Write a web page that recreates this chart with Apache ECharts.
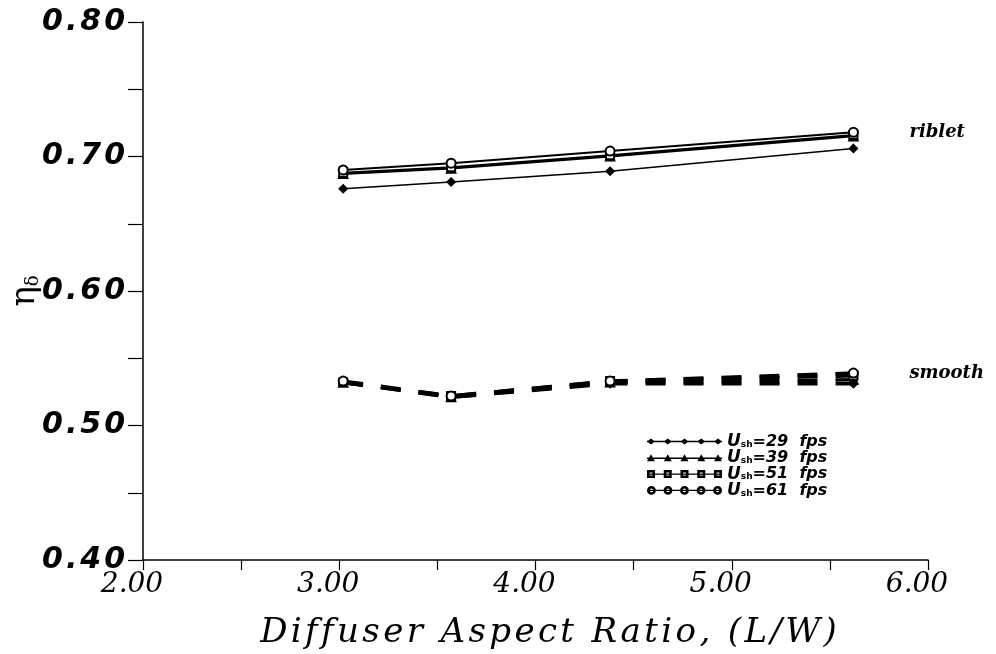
<!DOCTYPE html>
<html>
<head>
<meta charset="utf-8">
<script src="https://cdn.jsdelivr.net/npm/echarts@6/dist/echarts.min.js"></script>
<style>
  html, body { margin: 0; padding: 0; background: #fff; }
  #chart { width: 996px; height: 654px; }
</style>
</head>
<body>
<div id="chart"></div>
<script>
// Diffuser aspect ratio (L/W) at each test station
const aspectRatio = [3.02, 3.57, 4.38, 5.62];

// Free-stream speeds, fps
const speeds = ['29', '39', '51', '61'];

// Efficiency eta_delta, riblet surface
const riblet29 = [0.676, 0.681, 0.689, 0.706];
const riblet39 = [0.687, 0.691, 0.700, 0.715];
const riblet51 = [0.688, 0.692, 0.701, 0.716];
const riblet61 = [0.690, 0.695, 0.704, 0.718];

// Efficiency eta_delta, smooth surface
const smooth29 = [0.532, 0.521, 0.531, 0.531];
const smooth39 = [0.532, 0.521, 0.532, 0.534];
const smooth51 = [0.532, 0.522, 0.533, 0.537];
const smooth61 = [0.533, 0.522, 0.533, 0.539];

// Axis tick labels
const xTickLabels = ['2.00', '3.00', '4.00', '5.00', '6.00'];
const yTickLabels = ['0.40', '0.50', '0.60', '0.70', '0.80'];

const HAIR = '\u200A';
const spaced = (s, sep) => s.split('').join(sep);

const markers = {
  '29': { symbol: 'diamond', size: 7 },
  '39': { symbol: 'triangle', size: 8 },
  '51': { symbol: 'emptyRect', size: 8 },
  '61': { symbol: 'emptyCircle', size: 9 }
};

function pairs(ys) {
  return aspectRatio.map((x, i) => [x, ys[i]]);
}

function makeSeries(name, ys, dashed, endText) {
  const m = markers[name];
  const s = {
    name: name,
    type: 'line',
    data: pairs(ys),
    symbol: m.symbol,
    symbolSize: m.size,
    showAllSymbol: true,
    itemStyle: { color: '#000', borderColor: '#000', borderWidth: 2.2 },
    lineStyle: dashed
      ? { color: '#000', width: 3.5, type: [20, 18] }
      : { color: '#000', width: name === '29' ? 1.6 : 2 },
    emphasis: { disabled: true },
    animation: false,
    z: 3
  };
  if (endText) {
    s.endLabel = {
      show: true,
      formatter: endText,
      distance: 56,
      color: '#000',
      fontFamily: 'DejaVu Serif',
      fontStyle: 'italic',
      fontWeight: 'bold',
      fontSize: 18
    };
  }
  return s;
}

const rib = [riblet29, riblet39, riblet51, riblet61];
const smo = [smooth29, smooth39, smooth51, smooth61];
const series = [];
speeds.forEach((sp, i) => {
  series.push(makeSeries(sp, rib[i], false, sp === '61' ? 'riblet' : null));
});
speeds.forEach((sp, i) => {
  series.push(makeSeries(sp, smo[i], true, sp === '61' ? 'smooth' : null));
});

// Legend icons: a short line carrying five markers
function legendPath(kind) {
  let p = 'M0 4.3 H75 V5.7 H0 Z';
  for (let k = 0; k < 5; k++) {
    const cx = 4 + k * 16.75;
    if (kind === '29') {
      p += ` M${cx - 4} 5 L${cx} 2 L${cx + 4} 5 L${cx} 8 Z`;
    } else if (kind === '39') {
      p += ` M${cx - 4} 8 L${cx} 1 L${cx + 4} 8 Z`;
    } else if (kind === '51') {
      p += ` M${cx - 4} 1 H${cx + 4} V9 H${cx - 4} Z M${cx - 1.5} 3.5 V6.5 H${cx + 1.5} V3.5 Z`;
    } else {
      p += ` M${cx - 4.5} 5 A4.5 4.5 0 1 1 ${cx + 4.5} 5 A4.5 4.5 0 1 1 ${cx - 4.5} 5 Z` +
           ` M${cx - 1.8} 5 A1.8 1.8 0 1 0 ${cx + 1.8} 5 A1.8 1.8 0 1 0 ${cx - 1.8} 5 Z`;
    }
  }
  return 'path://' + p;
}

const chart = echarts.init(document.getElementById('chart'), null, { renderer: 'canvas' });

chart.setOption({
  backgroundColor: '#fff',
  animation: false,
  grid: { left: 143, top: 22, width: 785, height: 538, containLabel: false, outerBoundsMode: 'none' },
  legend: {
    orient: 'vertical',
    left: 642,
    top: 428,
    itemWidth: 75,
    itemHeight: 10,
    itemGap: -0.7,
    selectedMode: false,
    data: speeds.map(sp => ({ name: sp, icon: legendPath(sp) })),
    itemStyle: { color: '#000', borderWidth: 0 },
    lineStyle: { width: 0 },
    formatter: name => `{u|U}{s|sh}{t|=${name}  fps}`,
    textStyle: {
      color: '#000',
      rich: {
        u: { fontFamily: 'DejaVu Sans', fontStyle: 'italic', fontWeight: 'bold', fontSize: 17, lineHeight: 11, color: '#000' },
        s: { fontFamily: 'DejaVu Sans', fontWeight: 'bold', fontSize: 9, lineHeight: 5, padding: [6, 0, 0, 0], color: '#000' },
        t: { fontFamily: 'DejaVu Sans', fontStyle: 'italic', fontWeight: 'bold', fontSize: 16, lineHeight: 11, color: '#000' }
      }
    }
  },
  xAxis: {
    type: 'value',
    min: 2,
    max: 6,
    interval: 0.5,
    name: spaced('Diffuser Aspect Ratio, (L/W)', HAIR),
    nameLocation: 'middle',
    nameGap: 56,
    nameTextStyle: {
      fontFamily: 'DejaVu Serif',
      fontStyle: 'italic',
      fontSize: 34,
      color: '#000',
      padding: [0, 0, 0, 26]
    },
    axisLine: { lineStyle: { color: '#000', width: 1.5 } },
    axisTick: { show: true, inside: false, length: 10, lineStyle: { color: '#000', width: 1.2 } },
    axisLabel: {
      color: '#000',
      fontFamily: 'DejaVu Serif',
      fontStyle: 'italic',
      fontSize: 28,
      margin: 11,
      padding: [0, 22, 0, 0],
      formatter: v => {
        const idx = xTickLabels.indexOf(v.toFixed(2));
        return idx >= 0 ? xTickLabels[idx] : '';
      }
    },
    splitLine: { show: false }
  },
  yAxis: {
    type: 'value',
    min: 0.4,
    max: 0.8,
    interval: 0.05,
    name: '{e|η}{d|δ}',
    nameLocation: 'middle',
    nameRotate: 90,
    nameGap: 101,
    nameMoveOverlap: false,
    nameTextStyle: {
      rich: {
        e: { fontFamily: 'DejaVu Serif', fontSize: 34, color: '#000' },
        d: { fontFamily: 'DejaVu Serif', fontSize: 18, color: '#000', verticalAlign: 'bottom', padding: [10, 0, 0, 0] }
      }
    },
    axisLine: { lineStyle: { color: '#000', width: 1.5 } },
    axisTick: { show: true, inside: false, length: 15, lineStyle: { color: '#000', width: 1.2 } },
    axisLabel: {
      color: '#000',
      fontFamily: 'DejaVu Sans',
      fontStyle: 'italic',
      fontWeight: 'bold',
      fontSize: 30,
      margin: 18,
      formatter: v => {
        const idx = yTickLabels.indexOf(v.toFixed(2));
        return idx >= 0 ? spaced(yTickLabels[idx], HAIR) : '';
      }
    },
    splitLine: { show: false }
  },
  series: series
});
</script>
</body>
</html>
